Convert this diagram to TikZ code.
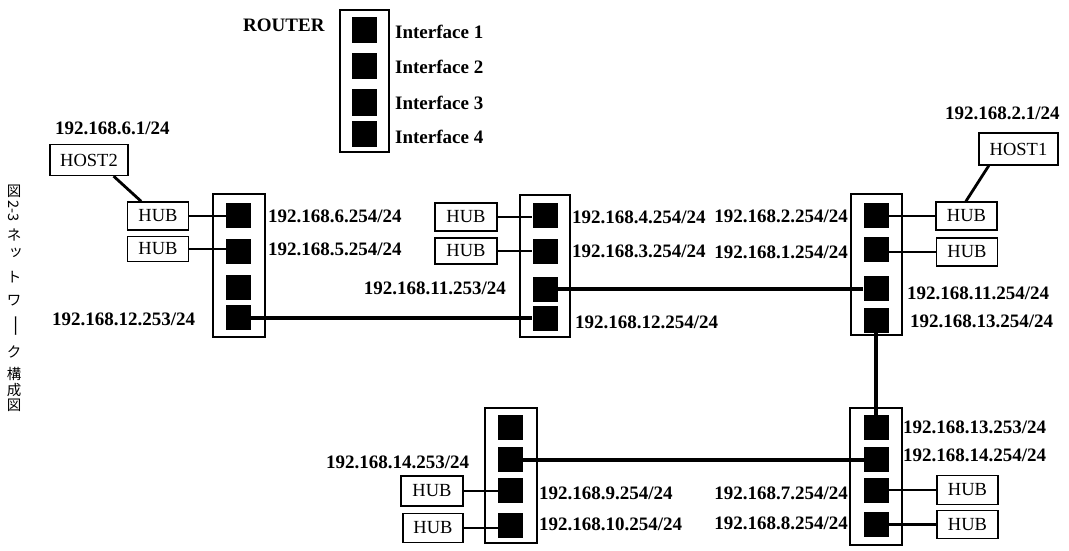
\documentclass[tikz,border=0pt]{standalone}
\usepackage{fontspec}
\setmainfont{Liberation Serif}
\newfontfamily\jpfont{Noto Sans CJK JP}
\usetikzlibrary{calc}
\begin{document}
\begin{tikzpicture}[x=1pt,y=-1pt,
  routerbox/.style={draw, line width=2.8pt, inner sep=0pt},
  port/.style={fill=black, inner sep=0pt, minimum width=25pt, minimum height=25pt},
  hub/.style={draw, line width=1.3pt, inner sep=0pt, minimum width=61pt, minimum height=28pt, font=\fontsize{18.5}{20}\selectfont},
  host/.style={draw, line width=1.3pt, inner sep=0pt, minimum width=78pt, minimum height=31pt, font=\fontsize{18.5}{20}\selectfont},
  lbl/.style={inner sep=0pt, font=\fontsize{19}{21}\selectfont\bfseries},
  link/.style={line width=2.8pt},
  trunk/.style={line width=4pt},
  jp/.style={inner sep=0pt, font=\jpfont\fontsize{14.5}{15}\selectfont}]
\useasboundingbox[fill=white] (0,0) rectangle (1069,551);

% vertical caption
\node[jp] (jp1) at (14,191) {図};
\node[jp, rotate=-90] (jp2) at (14,211) {2-3};
\node[jp] (jp3) at (14,235) {ネ};
\node[jp] (jp4) at (16,253) {ッ};
\node[jp] (jp5) at (14,277) {ト};
\node[jp] (jp6) at (14,301) {ワ};
\node[jp, rotate=-90, xscale=1.6] (jp7) at (14,326) {ー};
\node[jp] (jp8) at (14,352) {ク};
\node[jp] (jp9) at (14,374) {構};
\node[jp] (jp10) at (14,390) {成};
\node[jp] (jp11) at (14,405) {図};

% legend
\node[lbl, anchor=west] (legtitle) at (243,25) {ROUTER};
\node[routerbox, minimum width=49pt, minimum height=142pt] (leg) at (364.5,81) {};
\node[port, minimum height=26pt] (legp1) at (364,30) {};
\node[port, minimum height=26pt] (legp2) at (364,66.5) {};
\node[port, minimum height=26pt] (legp3) at (364,102.5) {};
\node[port, minimum height=26pt] (legp4) at (364,133.5) {};
\node[lbl, anchor=west] (legl1) at (395,32) {Interface 1};
\node[lbl, anchor=west] (legl2) at (395,67) {Interface 2};
\node[lbl, anchor=west] (legl3) at (395,103) {Interface 3};
\node[lbl, anchor=west] (legl4) at (395,137) {Interface 4};

% routers
\node[routerbox, minimum width=52pt, minimum height=143pt] (r1) at (239,265.5) {};
\node[routerbox, minimum width=50pt, minimum height=142pt] (r2) at (545,266) {};
\node[routerbox, minimum width=51pt, minimum height=141pt] (r3) at (876.5,264.5) {};
\node[routerbox, minimum width=52pt, minimum height=135pt] (r4) at (511,475.5) {};
\node[routerbox, minimum width=52pt, minimum height=137pt] (r5) at (876,476.5) {};

% ports
\node[port] (r1p1) at (238.5,215) {};
\node[port] (r1p2) at (238.5,251) {};
\node[port] (r1p3) at (238.5,287.5) {};
\node[port] (r1p4) at (238.5,317.5) {};
\node[port] (r2p1) at (545,215) {};
\node[port] (r2p2) at (545,251) {};
\node[port] (r2p3) at (545,289) {};
\node[port] (r2p4) at (545,318) {};
\node[port] (r3p1) at (876,215.5) {};
\node[port] (r3p2) at (876,249) {};
\node[port] (r3p3) at (876,288) {};
\node[port] (r3p4) at (876,320) {};
\node[port] (r4p1) at (510.5,427.5) {};
\node[port] (r4p2) at (510.5,459.5) {};
\node[port] (r4p3) at (510.5,490.5) {};
\node[port] (r4p4) at (510.5,525) {};
\node[port] (r5p1) at (876.5,427.5) {};
\node[port] (r5p2) at (876.5,459.5) {};
\node[port] (r5p3) at (876.5,490.5) {};
\node[port] (r5p4) at (876.5,524.5) {};

% hubs and hosts
\node[hub] (h1a) at (158,216) {HUB};
\node[hub, minimum height=25pt] (h1b) at (158,249) {HUB};
\node[hub, minimum width=62pt] (h2a) at (466,217) {HUB};
\node[hub, minimum width=62pt, minimum height=26pt] (h2b) at (466,251) {HUB};
\node[hub] (h3a) at (966.5,216) {HUB};
\node[hub] (h3b) at (967,252) {HUB};
\node[hub, minimum width=62pt, minimum height=30pt] (h4a) at (432,491) {HUB};
\node[hub, minimum width=60pt, minimum height=29pt] (h4b) at (433,528) {HUB};
\node[hub, minimum height=29pt] (h5a) at (967.5,490) {HUB};
\node[hub] (h5b) at (967.5,524.5) {HUB};
\node[host] (host2) at (89,160) {HOST2};
\node[host, minimum width=79pt, minimum height=32pt] (host1) at (1018.5,149) {HOST1};

% links hub - port
\draw[link] (h1a.east) -- (h1a.east -| r1p1.west);
\draw[link] (h1b.east) -- (h1b.east -| r1p2.west);
\draw[link] (h2a.east) -- (h2a.east -| r2p1.west);
\draw[link] (h2b.east) -- (h2b.east -| r2p2.west);
\draw[link] (h3a.west) -- (h3a.west -| r3p1.east);
\draw[link] (h3b.west) -- (h3b.west -| r3p2.east);
\draw[link] (h4a.east) -- (h4a.east -| r4p3.west);
\draw[link] (h4b.east) -- (h4b.east -| r4p4.west);
\draw[link] (h5a.west) -- (h5a.west -| r5p3.east);
\draw[link] (h5b.west) -- (h5b.west -| r5p4.east);
\draw[link] ($(host2.south west)!0.81!(host2.south east)$) -- ($(h1a.north west)!0.23!(h1a.north east)$);
\draw[link] ($(host1.south west)!0.13!(host1.south east)$) -- ($(h3a.north west)!0.49!(h3a.north east)$);

% router-router links
\draw[trunk] (r1p4.east) -- (r1p4.east -| r2p4.west);
\draw[trunk] (r2p3.east) -- (r2p3.east -| r3p3.west);
\draw[trunk] (r3p4.south) -- (r3p4.south |- r5p1.north);
\draw[trunk] (r4p2.east) -- (r4p2.east -| r5p2.west);

% labels
\node[lbl, anchor=west] (a1) at (55,128) {192.168.6.1/24};
\node[lbl, anchor=west] (a2) at (945,113) {192.168.2.1/24};
\node[lbl, anchor=west] (b1) at (268,216) {192.168.6.254/24};
\node[lbl, anchor=west] (b2) at (268,249) {192.168.5.254/24};
\node[lbl, anchor=west] (b3) at (52,319) {192.168.12.253/24};
\node[lbl, anchor=west] (c1) at (572,217) {192.168.4.254/24};
\node[lbl, anchor=west] (c2) at (572,251) {192.168.3.254/24};
\node[lbl, anchor=east] (c3) at (506,288) {192.168.11.253/24};
\node[lbl, anchor=west] (c4) at (575,322) {192.168.12.254/24};
\node[lbl, anchor=east] (d1) at (848,216) {192.168.2.254/24};
\node[lbl, anchor=east] (d2) at (848,252) {192.168.1.254/24};
\node[lbl, anchor=west] (d3) at (907,293) {192.168.11.254/24};
\node[lbl, anchor=west] (d4) at (910,321) {192.168.13.254/24};
\node[lbl, anchor=west] (e1) at (326,462) {192.168.14.253/24};
\node[lbl, anchor=west] (e2) at (539,493) {192.168.9.254/24};
\node[lbl, anchor=west] (e3) at (539,524) {192.168.10.254/24};
\node[lbl, anchor=west] (f1) at (903,427) {192.168.13.253/24};
\node[lbl, anchor=west] (f2) at (903,455) {192.168.14.254/24};
\node[lbl, anchor=east] (f3) at (848,493) {192.168.7.254/24};
\node[lbl, anchor=east] (f4) at (848,523) {192.168.8.254/24};
\end{tikzpicture}
\end{document}
